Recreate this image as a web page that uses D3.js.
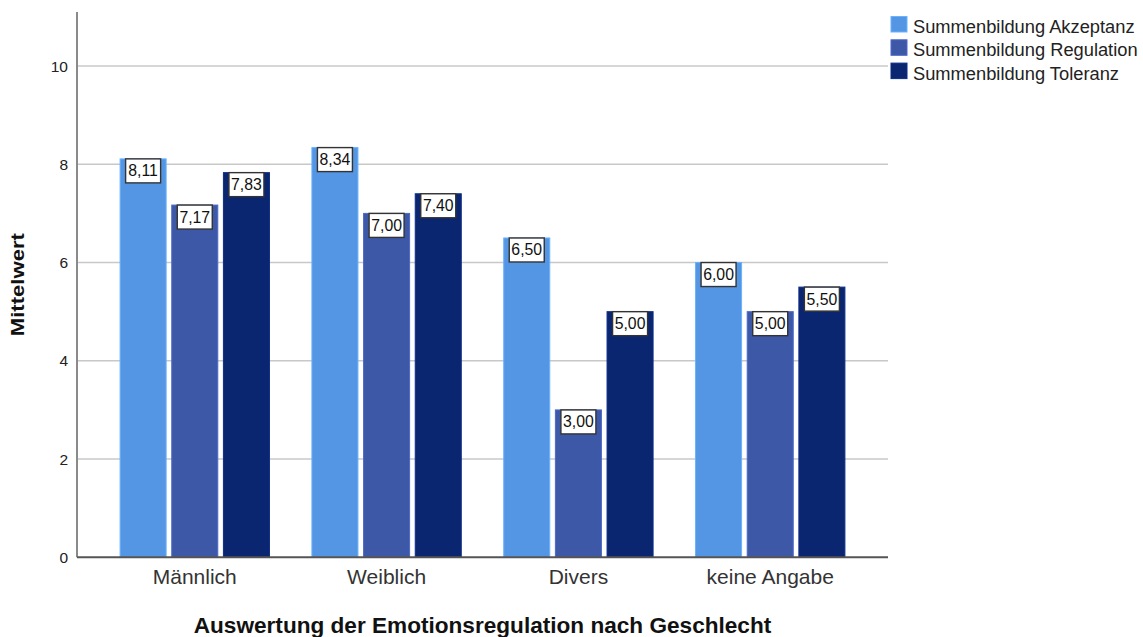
<!DOCTYPE html>
<html>
<head>
<meta charset="utf-8">
<script src="https://cdn.jsdelivr.net/npm/d3@7"></script>
<style>
  html, body { margin: 0; padding: 0; background: #fff; }
  svg { display: block; font-family: "Liberation Sans", Arial, sans-serif; }
</style>
</head>
<body>
<svg id="chart" width="1143" height="637"></svg>
<script>
const categories = ["Männlich", "Weiblich", "Divers", "keine Angabe"];
const seriesNames = ["Summenbildung Akzeptanz", "Summenbildung Regulation", "Summenbildung Toleranz"];
const akzeptanz = [8.11, 8.34, 6.50, 6.00];
const regulation = [7.17, 7.00, 3.00, 5.00];
const toleranz = [7.83, 7.40, 5.00, 5.50];
const yTicks = [0, 2, 4, 6, 8, 10];
const colors = ["#5596e4", "#3e58a8", "#0a2670"];

const seriesValues = [akzeptanz, regulation, toleranz];
const data = categories.map((c, i) => ({
  category: c,
  values: seriesNames.map((s, j) => ({ series: s, value: seriesValues[j][i], idx: j }))
}));

const svg = d3.select("#chart");
const pLeft = 77, pRight = 888, pTop = 12, pBottom = 557.3;

const x = d3.scaleBand().domain(categories).range([pLeft, pRight]).paddingInner(0).paddingOuter(0.114);
const x1 = d3.scaleBand().domain(seriesNames).range([0, x.bandwidth()]).paddingInner(0.109).paddingOuter(0.411);
const y = d3.scaleLinear().domain([0, 11.1]).range([pBottom, pTop]);

// gridlines
svg.append("g").selectAll("line").data(yTicks.filter(t => t > 0)).join("line")
  .attr("x1", pLeft).attr("x2", pRight)
  .attr("y1", d => y(d)).attr("y2", d => y(d))
  .attr("stroke", "#c8c8c8").attr("stroke-width", 1.5);

// y axis
const yAxis = svg.append("g").attr("transform", `translate(${pLeft},0)`)
  .call(d3.axisLeft(y).tickValues(yTicks).tickSize(0).tickPadding(9).tickFormat(d3.format("d")));
yAxis.select(".domain").attr("stroke", "#8a8a8a").attr("stroke-width", 2).attr("d", `M0,${pTop}V${pBottom}`);
yAxis.selectAll("text").attr("font-size", "15.5px").attr("fill", "#222").attr("font-family", "Liberation Sans, Arial, sans-serif");

// bars
const groups = svg.append("g").selectAll("g").data(data).join("g")
  .attr("transform", d => `translate(${x(d.category)},0)`);

groups.selectAll("rect.bar").data(d => d.values).join("rect")
  .attr("class", "bar")
  .attr("x", d => x1(d.series))
  .attr("y", d => y(d.value))
  .attr("width", x1.bandwidth())
  .attr("height", d => y(0) - y(d.value))
  .attr("fill", d => colors[d.idx])
  .attr("stroke", d => d3.color(colors[d.idx]).brighter(0.5))
  .attr("stroke-width", 1);

// x axis
const xAxis = svg.append("g").attr("transform", `translate(0,${pBottom})`)
  .call(d3.axisBottom(x).tickSize(0).tickPadding(12));
xAxis.select(".domain").attr("stroke", "#555").attr("stroke-width", 2).attr("d", `M${pLeft},0H${pRight}`);
xAxis.selectAll("text").attr("font-size", "21px").attr("fill", "#333").attr("font-family", "Liberation Sans, Arial, sans-serif");

// value labels
const fmt = v => d3.format(".2f")(v).replace(".", ",");
const lbl = groups.selectAll("g.lbl").data(d => d.values).join("g")
  .attr("class", "lbl")
  .attr("transform", d => `translate(${x1(d.series) + x1.bandwidth() / 2},${y(d.value)})`);
lbl.append("rect")
  .attr("x", -17.5).attr("y", 0).attr("width", 35).attr("height", 24)
  .attr("fill", "#fff").attr("stroke", "#333").attr("stroke-width", 1.4);
lbl.append("text")
  .attr("x", 0).attr("y", 17.5)
  .attr("text-anchor", "middle")
  .attr("font-size", "15.8px").attr("fill", "#111")
  .text(d => fmt(d.value));

// axis titles
svg.append("text")
  .attr("x", (pLeft + pRight) / 2).attr("y", 632.5)
  .attr("text-anchor", "middle")
  .attr("font-size", "22.6px").attr("font-weight", "bold").attr("fill", "#111")
  .text("Auswertung der Emotionsregulation nach Geschlecht");

svg.append("text")
  .attr("transform", `translate(23.5,${(pTop + pBottom) / 2}) rotate(-90)`)
  .attr("text-anchor", "middle")
  .attr("font-size", "18px").attr("font-weight", "bold").attr("fill", "#111")
  .attr("textLength", 103).attr("lengthAdjust", "spacingAndGlyphs")
  .text("Mittelwert");

// legend
const legend = svg.append("g").attr("transform", "translate(891,16.5)");
const li = legend.selectAll("g").data(seriesNames).join("g")
  .attr("transform", (d, i) => `translate(0,${i * 23.3})`);
li.append("rect").attr("width", 16).attr("height", 15.5)
  .attr("fill", (d, i) => colors[i])
  .attr("stroke", (d, i) => d3.color(colors[i]).brighter(0.5)).attr("stroke-width", 1);
li.append("text").attr("x", 22).attr("y", 16.5)
  .attr("font-size", "18.3px").attr("fill", "#222")
  .text(d => d);
</script>
</body>
</html>
